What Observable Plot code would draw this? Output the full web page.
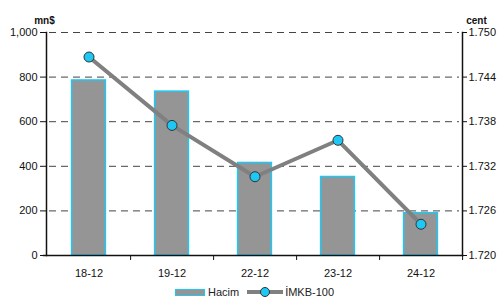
<!DOCTYPE html>
<html>
<head>
<meta charset="utf-8">
<script src="https://cdn.jsdelivr.net/npm/d3@7"></script>
<script src="https://cdn.jsdelivr.net/npm/@observablehq/plot@0.6"></script>
<style>
  body { margin: 0; background: #fff; font-family: "Liberation Sans", Arial, sans-serif; }
  #wrap { width: 503px; height: 305px; position: relative; }
  #legend { position: absolute; left: 0; width: 503px; top: 286px; display: flex; justify-content: center; align-items: center; font-size: 11px; color: #222; padding-left: 6px; box-sizing: border-box; }
  .sw-bar { width: 28px; height: 5px; background: #959595; border: 1.5px solid #1ec8f5; margin-right: 3px; }
  .sw-line { position: relative; width: 36px; height: 10px; margin: 0 2px 0 8px; }
  .sw-line .ln { position: absolute; left: 0; right: 0; top: 3px; height: 4px; background: #808080; }
  .sw-line .dot { position: absolute; left: 13px; top: 0px; width: 8px; height: 8px; border-radius: 50%; background: #1ec8f5; border: 1px solid #333; }
</style>
</head>
<body>
<div id="wrap">
  <div id="chart"></div>
  <div id="legend">
    <div class="sw-bar"></div><span>Hacim</span>
    <div class="sw-line"><div class="ln"></div><div class="dot"></div></div><span>İMKB-100</span>
  </div>
</div>
<script>
const categories = ["18-12", "19-12", "22-12", "23-12", "24-12"];
const volume = [785, 735, 415, 352, 190];          // mn$ (left axis)
const index100 = [1.7467, 1.7375, 1.7306, 1.7355, 1.7242]; // cent (right axis)
const leftTicks = [0, 200, 400, 600, 800, 1000];
const rightMin = 1.720, rightMax = 1.750;

const toLeft = v => (v - rightMin) / (rightMax - rightMin) * 1000;
const rows = categories.map((c, i) => ({cat: c, vol: volume[i], idx: index100[i], idxL: toLeft(index100[i])}));

const W = 503, H = 280, mL = 46, mR = 41, mT = 32, mB = 25;
const step = (W - mL - mR) / categories.length;
const barW = 34;
const inset = (step - barW) / 2;

const chart = Plot.plot({
  width: W, height: H,
  marginLeft: mL, marginRight: mR, marginTop: mT, marginBottom: mB,
  style: { fontFamily: "Liberation Sans, Arial, sans-serif", fontSize: "11px", color: "#111", background: "#fff" },
  x: { type: "band", domain: categories, padding: 0, axis: null },
  y: { domain: [0, 1000], axis: null },
  marks: [
    // dashed gridlines
    Plot.ruleY(leftTicks.filter(d => d > 0), { stroke: "#444", strokeDasharray: "7,5", strokeWidth: 1, insetLeft: 3, insetRight: 3 }),
    // bars
    Plot.barY(rows, { x: "cat", y: "vol", fill: "#959595", stroke: "#1ec8f5", strokeWidth: 1.5, insetLeft: inset, insetRight: inset }),
    // axes lines
    Plot.frame({ anchor: "left", stroke: "#111", strokeWidth: 1.5 }),
    Plot.frame({ anchor: "right", stroke: "#111", strokeWidth: 1.5 }),
    Plot.frame({ anchor: "bottom", stroke: "#111", strokeWidth: 1.5, insetLeft: -3 }),
    // left axis
    Plot.axisY({ anchor: "left", ticks: leftTicks, tickSize: 6, tickPadding: 3, tickFormat: d => d3.format(",")(d), fontSize: 11, label: null }),
    // right axis
    Plot.axisY({ anchor: "right", ticks: leftTicks, tickSize: 4, tickPadding: 2, tickFormat: d => (rightMin + d / 1000 * (rightMax - rightMin)).toFixed(3), fontSize: 11, label: null }),
    // x axis: boundary ticks
    Plot.axisX({ ticks: categories, tickSize: 5, tickFormat: () => "", dx: step / 2, label: null }),
    // x labels
    Plot.axisX({ ticks: categories, tickSize: 0, tickPadding: 14, fontSize: 11, label: null }),
    // line on right scale
    Plot.line(rows, { x: "cat", y: "idxL", stroke: "#808080", strokeWidth: 4 }),
    Plot.dot(rows, { x: "cat", y: "idxL", r: 5, fill: "#1ec8f5", stroke: "#333", strokeWidth: 1 }),
    // unit labels
    Plot.text(["mn$"], { frameAnchor: "top-left", dx: -2, dy: -16, text: d => d, fontWeight: "bold", fontSize: 10, textAnchor: "middle" }),
    Plot.text(["cent"], { frameAnchor: "top-right", dx: 14, dy: -16, text: d => d, fontWeight: "bold", fontSize: 10, textAnchor: "middle" })
  ]
});
document.getElementById("chart").appendChild(chart);
</script>
</body>
</html>
